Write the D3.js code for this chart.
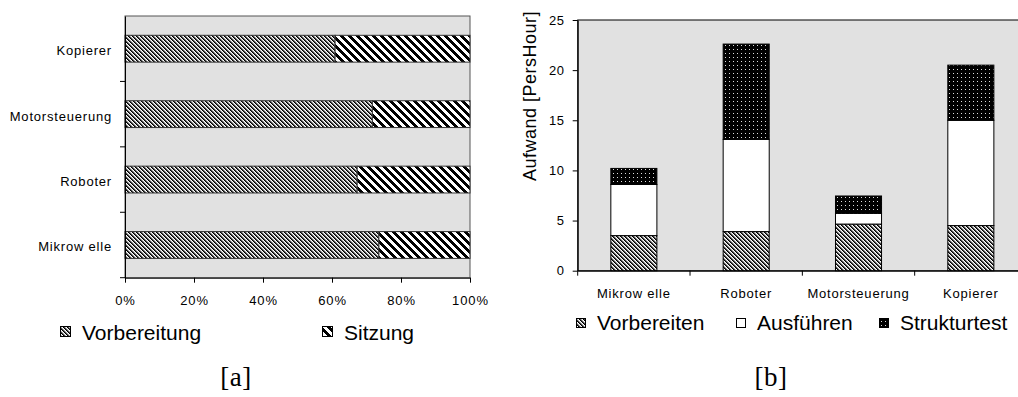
<!DOCTYPE html>
<html>
<head>
<meta charset="utf-8">
<script src="https://cdn.jsdelivr.net/npm/d3@7"></script>
<style>
  body { margin: 0; background: #fff; }
  svg { display: block; }
</style>
</head>
<body>
<svg id="chart" width="1018" height="397"></svg>
<script>
// --- data, chart [a] (share in percent) ---
const catsA = ["Mikrow elle", "Roboter", "Motorsteuerung", "Kopierer"];
const vorbereitung = [73.6, 67.3, 71.7, 60.9];
const sitzung = [26.4, 32.7, 28.3, 39.1];
const ticksA = [0, 20, 40, 60, 80, 100];

// --- data, chart [b] (PersHour) ---
const catsB = ["Mikrow elle", "Roboter", "Motorsteuerung", "Kopierer"];
const vorbereiten = [3.5, 3.9, 4.65, 4.5];
const ausfuehren = [5.1, 9.2, 1.07, 10.5];
const strukturtest = [1.6, 9.5, 1.73, 5.5];
const ticksB = [0, 5, 10, 15, 20, 25];

const svg = d3.select("#chart");
const defs = svg.append("defs");
const SANS = "'Liberation Sans', Arial, sans-serif";
const BG = "#e1e1e1";

// pixel diagonal hatch "\" : n = period, cols = colours per pixel in a row
function diagPattern(id, n, cols) {
  const p = defs.append("pattern").attr("id", id)
    .attr("patternUnits", "userSpaceOnUse").attr("width", n).attr("height", n);
  p.append("rect").attr("width", n).attr("height", n).attr("fill", "#fff");
  for (let r = 0; r < n; r++) {
    cols.forEach((c, j) => {
      p.append("rect").attr("x", (r + j) % n).attr("y", r)
        .attr("width", 1).attr("height", 1).attr("fill", c);
    });
  }
}
diagPattern("fine", 4, ["#000", "#444", "#bbb"]);
diagPattern("wide", 8, ["#000", "#000", "#000", "#000"]);

const dots = defs.append("pattern").attr("id", "dots")
  .attr("patternUnits", "userSpaceOnUse").attr("width", 4).attr("height", 4);
dots.append("rect").attr("width", 4).attr("height", 4).attr("fill", "#000");
dots.append("rect").attr("x", 1).attr("y", 1).attr("width", 1).attr("height", 1).attr("fill", "#ddd");

function styleAxis(g, size, spacing) {
  g.selectAll("text").attr("font-family", SANS).attr("font-size", size)
    .attr("letter-spacing", spacing).attr("fill", "#000");
  g.selectAll("line, path").attr("stroke", "#000");
}

// ================= chart [a] =================
const a = { left: 125, right: 470, top: 16, bottom: 277.7 };
const xA = d3.scaleLinear().domain([0, 100]).range([a.left, a.right]);
const yA = d3.scaleBand().domain(catsA.slice().reverse()).range([a.top, a.bottom]);

svg.append("rect").attr("x", a.left).attr("y", a.top)
  .attr("width", a.right - a.left).attr("height", a.bottom - a.top)
  .attr("fill", BG).attr("stroke", "#555").attr("stroke-width", 1);

const barA = yA.step() * 0.41;
const gA = svg.append("g");
catsA.forEach((c, i) => {
  const y = yA(c) + (yA.step() - barA) / 2;
  gA.append("rect").attr("x", xA(0)).attr("y", y)
    .attr("width", xA(vorbereitung[i]) - xA(0)).attr("height", barA)
    .attr("fill", "url(#fine)").attr("stroke", "#333");
  gA.append("rect").attr("x", xA(vorbereitung[i])).attr("y", y)
    .attr("width", xA(vorbereitung[i] + sitzung[i]) - xA(vorbereitung[i])).attr("height", barA)
    .attr("fill", "url(#wide)").attr("stroke", "#333");
});

const axAx = svg.append("g").attr("transform", `translate(0,${a.bottom})`)
  .call(d3.axisBottom(xA).tickValues(ticksA).tickFormat(d => d + "%").tickSize(5).tickPadding(13).tickSizeOuter(0));
styleAxis(axAx, 13, 0.9);

const ayAx = svg.append("g").attr("transform", `translate(${a.left},0)`)
  .call(d3.axisLeft(yA).tickSize(0).tickPadding(13));
styleAxis(ayAx, 13, 0.8);
ayAx.selectAll(".tick text").attr("dy", "0.5em");
catsA.forEach(c => {
  svg.append("line").attr("x1", a.left - 5).attr("x2", a.left)
    .attr("y1", yA(c) + yA.step()).attr("y2", yA(c) + yA.step()).attr("stroke", "#000");
});

// legend [a]
const legA = [
  { label: "Vorbereitung", fill: "url(#fine)", x: 60 },
  { label: "Sitzung", fill: "url(#wide)", x: 322 }
];
legA.forEach(d => {
  svg.append("rect").attr("x", d.x + 0.5).attr("y", 326.5).attr("width", 10).attr("height", 10)
    .attr("fill", d.fill).attr("stroke", "#000");
  svg.append("text").attr("x", d.x + 22).attr("y", 340).attr("font-family", SANS)
    .attr("font-size", 21).text(d.label);
});

// ================= chart [b] =================
const b = { left: 577.7, right: 1027, top: 20, bottom: 270.7 };
const xB = d3.scaleBand().domain(catsB).range([b.left, b.right]);
const yB = d3.scaleLinear().domain([0, 25]).range([b.bottom, b.top]);

svg.append("rect").attr("x", b.left).attr("y", b.top)
  .attr("width", b.right - b.left).attr("height", b.bottom - b.top)
  .attr("fill", BG).attr("stroke", "#000").attr("stroke-width", 1);

const stack = d3.stack().keys(["v", "a", "s"])(
  catsB.map((c, i) => ({ cat: c, v: vorbereiten[i], a: ausfuehren[i], s: strukturtest[i] }))
);
const fillsB = { v: "url(#fine)", a: "#fff", s: "url(#dots)" };
const barB = xB.step() * 0.41;
stack.forEach(layer => {
  svg.append("g").selectAll("rect").data(layer).join("rect")
    .attr("x", d => xB(d.data.cat) + (xB.step() - barB) / 2)
    .attr("y", d => yB(d[1]))
    .attr("width", barB)
    .attr("height", d => yB(d[0]) - yB(d[1]))
    .attr("fill", fillsB[layer.key])
    .attr("stroke", "#000");
});

const byAx = svg.append("g").attr("transform", `translate(${b.left},0)`)
  .call(d3.axisLeft(yB).tickValues(ticksB).tickSize(5).tickPadding(8).tickSizeOuter(0));
styleAxis(byAx, 13, 0.6);

const bxAx = svg.append("g").attr("transform", `translate(0,${b.bottom})`)
  .call(d3.axisBottom(xB).tickSize(0).tickPadding(18).tickSizeOuter(0));
styleAxis(bxAx, 13, 0.8);
catsB.forEach(c => {
  svg.append("line").attr("x1", xB(c)).attr("x2", xB(c))
    .attr("y1", b.bottom).attr("y2", b.bottom + 5).attr("stroke", "#000");
});

svg.append("text")
  .attr("transform", "translate(536,96) rotate(-90)")
  .attr("text-anchor", "middle").attr("font-family", SANS).attr("font-size", 18)
  .attr("letter-spacing", 0.5)
  .text("Aufwand [PersHour]");

// legend [b]
const legB = [
  { label: "Vorbereiten", fill: "url(#fine)", x: 576 },
  { label: "Ausführen", fill: "#fff", x: 736 },
  { label: "Strukturtest", fill: "url(#dots)", x: 879 }
];
legB.forEach(d => {
  svg.append("rect").attr("x", d.x + 0.5).attr("y", 318.5).attr("width", 9).attr("height", 9)
    .attr("fill", d.fill).attr("stroke", "#000");
  svg.append("text").attr("x", d.x + 21).attr("y", 330).attr("font-family", SANS)
    .attr("font-size", 21).text(d.label);
});

// captions
[["[a]", 236], ["[b]", 771]].forEach(([t, x]) => {
  svg.append("text").attr("x", x).attr("y", 386).attr("text-anchor", "middle")
    .attr("font-family", "'Liberation Serif', 'DejaVu Serif', serif")
    .attr("font-size", 27).attr("letter-spacing", 0.5).text(t);
});
</script>
</body>
</html>
